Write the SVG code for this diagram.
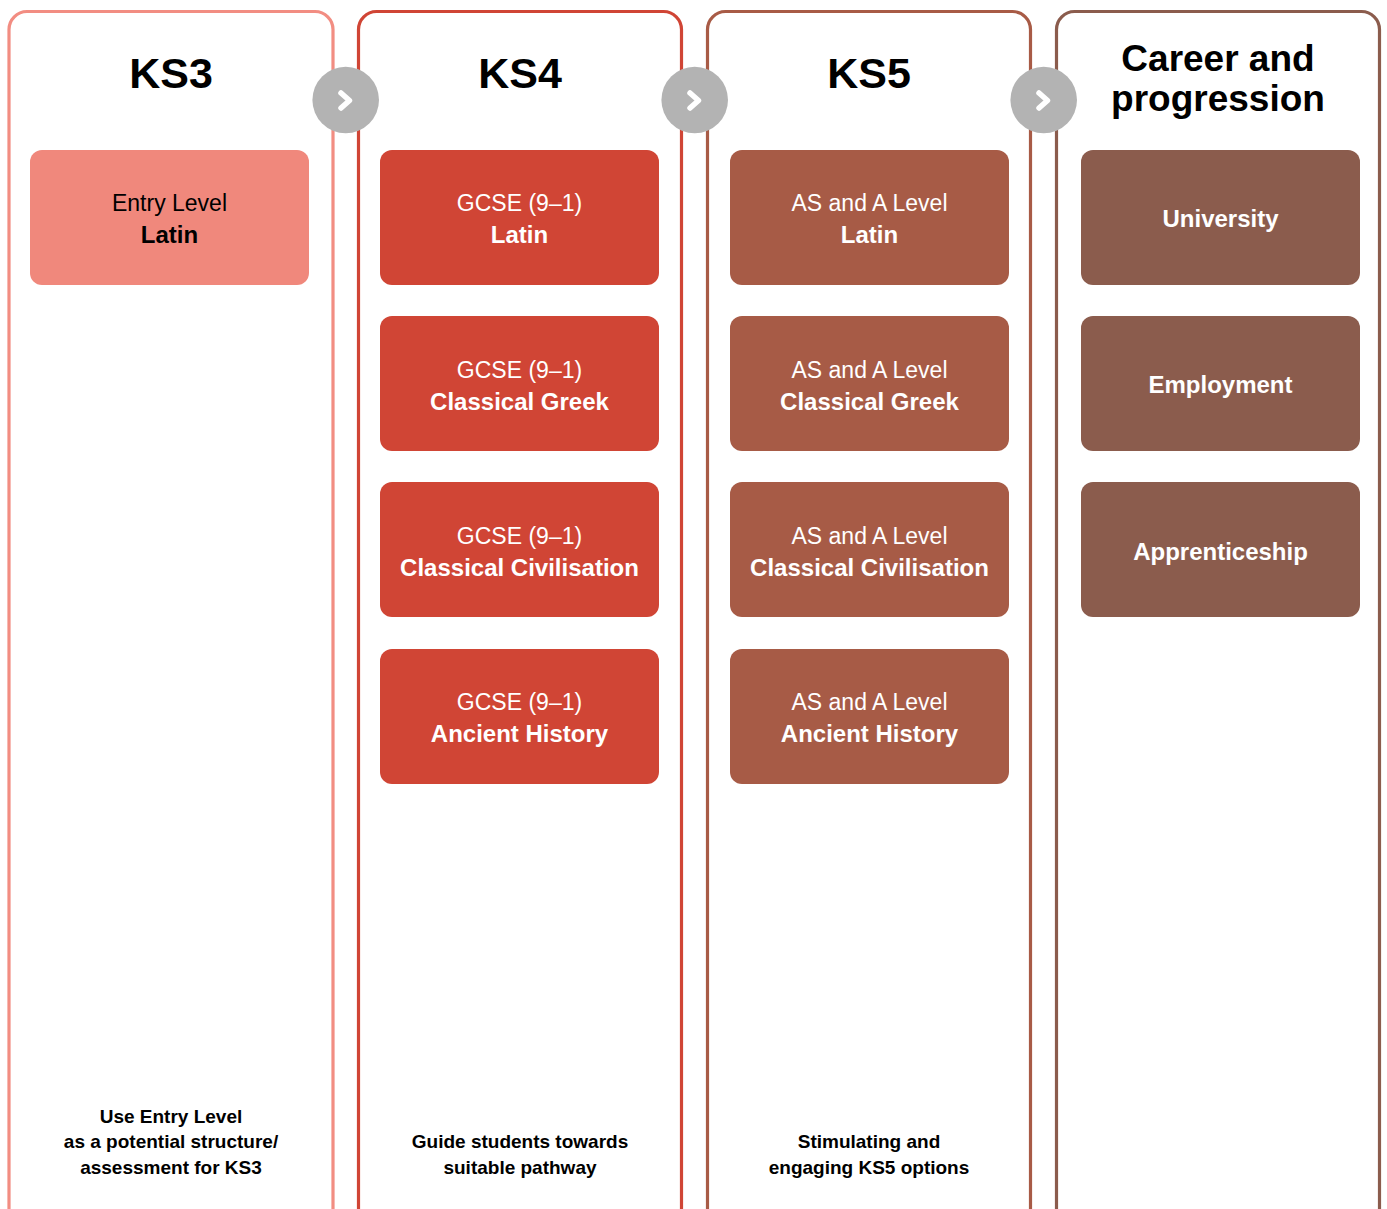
<svg xmlns="http://www.w3.org/2000/svg" width="1387" height="1209" viewBox="0 0 1387 1209">
<style>
.frame{fill:#ffffff;stroke-width:3.2}
.head{font-family:"Liberation Sans",Arial,sans-serif;font-weight:bold;fill:#000;text-anchor:middle}
.box{stroke:none}
.t1{font-family:"Liberation Sans",Arial,sans-serif;font-size:23px;text-anchor:middle}
.t2{font-family:"Liberation Sans",Arial,sans-serif;font-size:24px;font-weight:bold;text-anchor:middle}
.note{font-family:"Liberation Sans",Arial,sans-serif;font-size:19px;font-weight:bold;fill:#000;text-anchor:middle}
.circ{fill:#b3b3b3}
.chev{fill:none;stroke:#ffffff;stroke-width:5.5;stroke-linecap:round;stroke-linejoin:round}
</style>
<rect width="1387" height="1209" fill="#ffffff"/>

<g id="col-ks3">
<rect class="frame" x="9" y="11.5" width="324" height="1215" rx="18" stroke="#f28d82"/>
<text class="head" x="171" y="88" font-size="43">KS3</text>
<g id="ks3-entry">
<rect class="box" x="30" y="150" width="279" height="135" rx="12" fill="#f0887c"/>
<text class="t1" x="169.5" y="211" fill="#000">Entry Level</text>
<text class="t2" x="169.5" y="243" fill="#000">Latin</text>
</g>
<text class="note" x="171" y="1123">Use Entry Level</text>
<text class="note" x="171" y="1148">as a potential structure/</text>
<text class="note" x="171" y="1174">assessment for KS3</text>
</g>

<g id="col-ks4">
<rect class="frame" x="358.5" y="11.5" width="323" height="1215" rx="18" stroke="#d04535"/>
<text class="head" x="520" y="88" font-size="43">KS4</text>
<g id="ks4-latin">
<rect class="box" x="380" y="150" width="279" height="135" rx="12" fill="#d04535"/>
<text class="t1" x="519.5" y="211" fill="#fff">GCSE (9–1)</text>
<text class="t2" x="519.5" y="243" fill="#fff">Latin</text>
</g>
<g id="ks4-greek">
<rect class="box" x="380" y="316" width="279" height="135" rx="12" fill="#d04535"/>
<text class="t1" x="519.5" y="378" fill="#fff">GCSE (9–1)</text>
<text class="t2" x="519.5" y="410" fill="#fff">Classical Greek</text>
</g>
<g id="ks4-civ">
<rect class="box" x="380" y="482" width="279" height="135" rx="12" fill="#d04535"/>
<text class="t1" x="519.5" y="544" fill="#fff">GCSE (9–1)</text>
<text class="t2" x="519.5" y="576" fill="#fff">Classical Civilisation</text>
</g>
<g id="ks4-hist">
<rect class="box" x="380" y="649" width="279" height="135" rx="12" fill="#d04535"/>
<text class="t1" x="519.5" y="710" fill="#fff">GCSE (9–1)</text>
<text class="t2" x="519.5" y="742" fill="#fff">Ancient History</text>
</g>
<text class="note" x="520" y="1148">Guide students towards</text>
<text class="note" x="520" y="1174">suitable pathway</text>
</g>

<g id="col-ks5">
<rect class="frame" x="707.5" y="11.5" width="323" height="1215" rx="18" stroke="#a85b46"/>
<text class="head" x="869" y="88" font-size="43">KS5</text>
<g id="ks5-latin">
<rect class="box" x="730" y="150" width="279" height="135" rx="12" fill="#a75b46"/>
<text class="t1" x="869.5" y="211" fill="#fff">AS and A Level</text>
<text class="t2" x="869.5" y="243" fill="#fff">Latin</text>
</g>
<g id="ks5-greek">
<rect class="box" x="730" y="316" width="279" height="135" rx="12" fill="#a75b46"/>
<text class="t1" x="869.5" y="378" fill="#fff">AS and A Level</text>
<text class="t2" x="869.5" y="410" fill="#fff">Classical Greek</text>
</g>
<g id="ks5-civ">
<rect class="box" x="730" y="482" width="279" height="135" rx="12" fill="#a75b46"/>
<text class="t1" x="869.5" y="544" fill="#fff">AS and A Level</text>
<text class="t2" x="869.5" y="576" fill="#fff">Classical Civilisation</text>
</g>
<g id="ks5-hist">
<rect class="box" x="730" y="649" width="279" height="135" rx="12" fill="#a75b46"/>
<text class="t1" x="869.5" y="710" fill="#fff">AS and A Level</text>
<text class="t2" x="869.5" y="742" fill="#fff">Ancient History</text>
</g>
<text class="note" x="869" y="1148">Stimulating and</text>
<text class="note" x="869" y="1174">engaging KS5 options</text>
</g>

<g id="col-career">
<rect class="frame" x="1056.5" y="11.5" width="323" height="1215" rx="18" stroke="#8b5c4d"/>
<text class="head" x="1218" y="71" font-size="37">Career and</text>
<text class="head" x="1218" y="111" font-size="37">progression</text>
<g id="career-uni">
<rect class="box" x="1081" y="150" width="279" height="135" rx="12" fill="#8b5c4d"/>
<text class="t2" x="1220.5" y="227" fill="#fff">University</text>
</g>
<g id="career-emp">
<rect class="box" x="1081" y="316" width="279" height="135" rx="12" fill="#8b5c4d"/>
<text class="t2" x="1220.5" y="393" fill="#fff">Employment</text>
</g>
<g id="career-app">
<rect class="box" x="1081" y="482" width="279" height="135" rx="12" fill="#8b5c4d"/>
<text class="t2" x="1220.5" y="560" fill="#fff">Apprenticeship</text>
</g>
</g>

<g id="connectors">
<g>
<circle class="circ" cx="345.7" cy="100" r="33.3"/>
<polyline class="chev" points="341,93 349.5,100.5 341,108"/>
</g>
<g>
<circle class="circ" cx="694.7" cy="100" r="33.3"/>
<polyline class="chev" points="690,93 698.5,100.5 690,108"/>
</g>
<g>
<circle class="circ" cx="1043.7" cy="100" r="33.3"/>
<polyline class="chev" points="1039,93 1047.5,100.5 1039,108"/>
</g>
</g>
</svg>
